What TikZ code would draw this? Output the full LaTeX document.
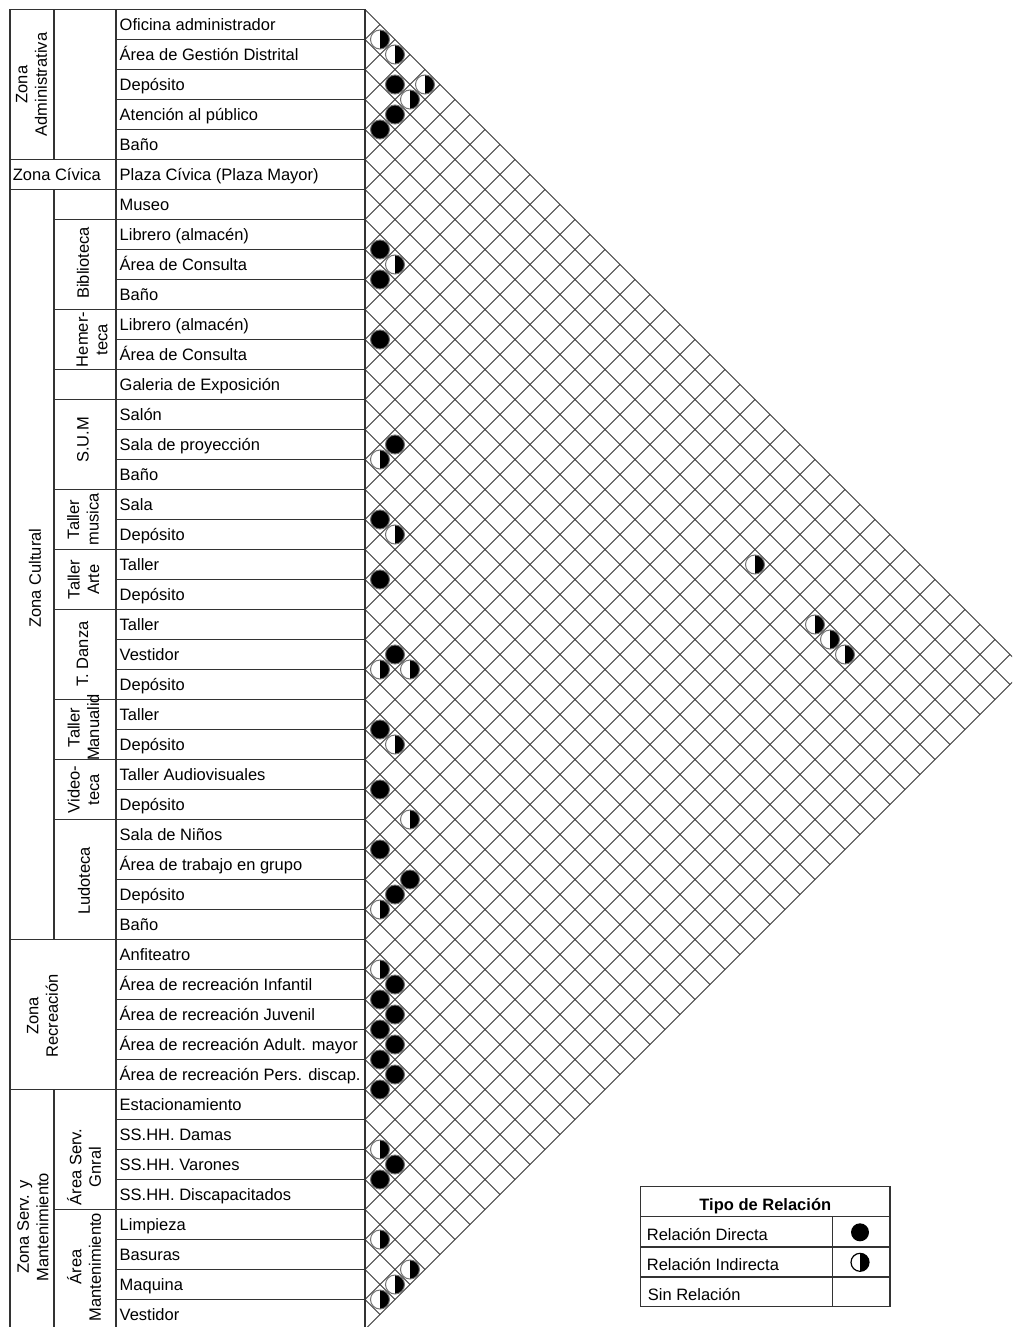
\documentclass[tikz,border=0pt]{standalone}
\usepackage{fontspec}
\setmainfont{Liberation Sans}

% marks of the matrix, for the pair of rows #1 and #2
\newcommand{\reldirect}[2]{%
  \fill[black,draw=ringgray,line width=1pt] ({365+15*(#2-#1)},{15*(#1+#2)-5.5}) circle (9.5);}
\newcommand{\relindirect}[2]{%
  \fill[white] ({365+15*(#2-#1)},{15*(#1+#2)-5.5}) circle (9.5);
  \fill[black] ({365+15*(#2-#1)},{15*(#1+#2)-5.5}) ++(0,-9.5) arc[start angle=-90,end angle=90,radius=9.5] -- cycle;
  \draw[ringgray,line width=1pt] ({365+15*(#2-#1)},{15*(#1+#2)-5.5}) circle (9.5);}

\begin{document}
\begin{tikzpicture}[x=1pt,y=-1pt,
  rowtext/.style={anchor=base west,inner sep=0pt,font=\fontsize{16.5}{19.5}\selectfont},
  zonetext/.style={align=center,rotate=90,inner sep=0pt,font=\fontsize{16.5}{19.5}\selectfont},
  tableline/.style={draw=tabgray,line width=1.2pt},
  gridline/.style={draw=gridgray,line width=1pt}]

% Define colors
\definecolor{tabgray}{rgb}{0.2, 0.2, 0.2}
\definecolor{gridgray}{rgb}{0.22, 0.22, 0.22}
\definecolor{ringgray}{rgb}{0.45, 0.45, 0.45}

\useasboundingbox (0,0) rectangle (1012,1327);
\clip (0,0) rectangle (1012,1327);
\fill[white] (0,0) rectangle (1012,1327);

% Draw the relation grid
\foreach \k in {0,...,44} {
  \draw[gridline] (365,{9.5+30*\k}) -- ++({15*(44-\k)},{15*(44-\k)});
  \draw[gridline] (365,{9.5+30*\k}) -- ++({15*\k},{-15*\k});
}

% Draw the rows
\foreach \k in {1,...,44} {
  \draw[tableline] (116,{30*\k-20.5}) rectangle (365,{30*\k+9.5});
}

% Draw the groups
\foreach \a/\b in {0/5,6/7,7/10,10/12,12/13,13/16,16/18,18/20,20/23,23/25,25/27,27/31,36/40,40/44} {
  \draw[tableline] (54,{9.5+30*\a}) rectangle (116,{9.5+30*\b});
}

% Draw the zones
\draw[tableline] (10,9.5) rectangle (54,159.5);
\draw[tableline] (10,159.5) rectangle (116,189.5);
\draw[tableline] (10,189.5) rectangle (54,939.5);
\draw[tableline] (10,939.5) rectangle (116,1089.5);
\draw[tableline] (10,1089.5) rectangle (54,1329.5);

% Room names
\foreach \n/\txt in {1/Oficina administrador, 2/Área de Gestión Distrital, 3/Depósito,
  4/Atención al público, 5/Baño, 6/Plaza Cívica (Plaza Mayor), 7/Museo,
  8/Librero (almacén), 9/Área de Consulta, 10/Baño, 11/Librero (almacén),
  12/Área de Consulta, 13/Galeria de Exposición, 14/Salón, 15/Sala de proyección,
  16/Baño, 17/Sala, 18/Depósito, 19/Taller, 20/Depósito, 21/Taller, 22/Vestidor,
  23/Depósito, 24/Taller, 25/Depósito, 26/Taller Audiovisuales, 27/Depósito,
  28/Sala de Niños, 29/Área de trabajo en grupo, 30/Depósito, 31/Baño,
  32/Anfiteatro, 33/Área de recreación Infantil, 34/Área de recreación Juvenil,
  35/Área de recreación Adult. mayor, 36/Área de recreación Pers. discap.,
  37/Estacionamiento, 38/SS.HH. Damas, 39/SS.HH. Varones, 40/SS.HH. Discapacitados,
  41/Limpieza, 42/Basuras, 43/Maquina, 44/Vestidor} {
  \node[rowtext] (row\n) at (119.5,{30*\n+0.5}) {\txt};
}

% Zone and group names
\node[zonetext] (zadmin) at (31.5,84.5) {Zona\\Administrativa};
\node[rowtext,anchor=west] (zcivica) at (12.7,174.5) {Zona Cívica};
\node[zonetext] (zcultural) at (35,578) {Zona Cultural};
\node[zonetext] (zrecre) at (42.5,1016) {Zona\\Recreación};
\node[zonetext] (zserv) at (33,1227) {Zona Serv. y\\Mantenimiento};
\node[zonetext] (biblio) at (83,263) {Biblioteca};
\node[zonetext] (hemer) at (92,339.5) {Hemer-\\teca};
\node[zonetext] (sum) at (83,440) {S.U.M};
\node[zonetext] (tmusica) at (83,519.5) {Taller\\musica};
\node[zonetext] (tarte) at (83.5,579.5) {Taller\\Arte};
\node[zonetext] (tdanza) at (82.5,654) {T. Danza};
\node[zonetext] (tmanual) at (83.5,727.5) {Taller\\Manualid};
\node[zonetext] (video) at (83.5,789.5) {Video-\\teca};
\node[zonetext] (ludo) at (84,881) {Ludoteca};
\node[zonetext] (aserv) at (84,1167) {Área Serv.\\Gnral};
\node[zonetext] (amant) at (84,1267) {Área\\Mantenimiento};

% Direct relations
\foreach \i/\j in {2/4,3/5,4/5,8/9,9/10,11/12,14/16,17/18,19/20,21/23,24/25,26/27,
  28/29,28/31,29/31,32/34,33/34,33/35,34/35,34/36,35/36,35/37,36/37,38/40,39/40} {
  \reldirect{\i}{\j}
}

% Indirect relations
\foreach \i/\j in {1/2,1/3,1/5,2/5,8/10,15/16,17/19,22/23,21/24,24/26,26/29,30/31,
  32/33,38/39,41/42,41/44,42/44,43/44,6/32,6/36,6/37,6/38} {
  \relindirect{\i}{\j}
}

% Legend
\draw[tableline] (640.7,1186.7) rectangle (890,1306.7);
\draw[tableline] (640.7,1216.7) -- (890,1216.7);
\draw[tableline] (640.7,1247) -- (890,1247);
\draw[tableline] (640.7,1277) -- (890,1277);
\draw[tableline] (832.7,1216.7) -- (832.7,1306.7);
\node[rowtext,anchor=base,font=\fontsize{16.5}{19.5}\selectfont\bfseries] (lhead) at (765.3,1210) {Tipo de Relación};
\node[rowtext] (ldirect) at (646.7,1240) {Relación Directa};
\node[rowtext] (lindirect) at (646.7,1270) {Relación Indirecta};
\node[rowtext] (lnone) at (647.7,1300) {Sin Relación};
\fill[black] (860,1232.3) circle (9);
\fill[white] (860,1262.3) circle (9);
\fill[black] (860,1262.3) ++(0,-9) arc[start angle=-90,end angle=90,radius=9] -- cycle;
\draw[black,line width=1.2pt] (860,1262.3) circle (9);

\end{tikzpicture}
\end{document}
